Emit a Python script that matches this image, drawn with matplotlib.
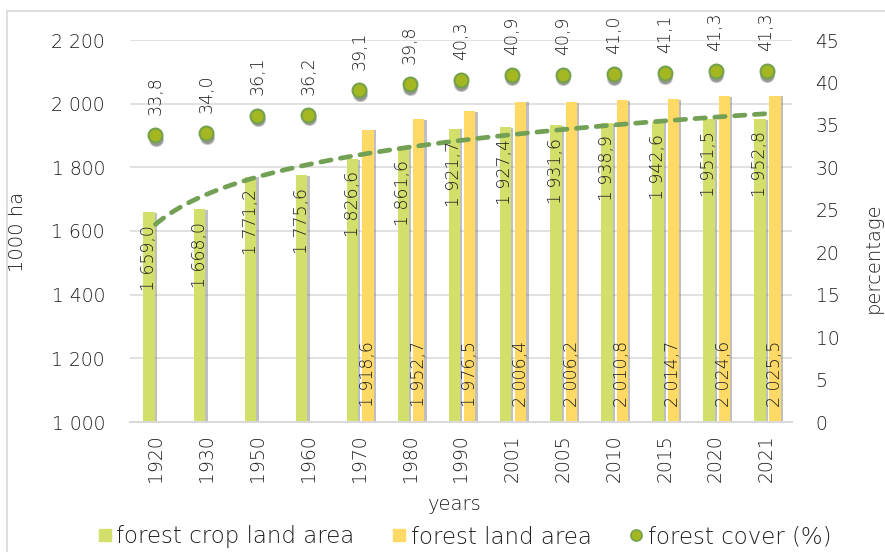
import numpy as np
import matplotlib
matplotlib.use("Agg")
import matplotlib.pyplot as plt
from matplotlib.lines import Line2D
from matplotlib import patheffects as pe
from matplotlib.transforms import ScaledTranslation

# --- data -------------------------------------------------------------
years = ["1920", "1930", "1950", "1960", "1970", "1980", "1990",
         "2001", "2005", "2010", "2015", "2020", "2021"]
forest_crop_land = [1659.0, 1668.0, 1771.2, 1775.6, 1826.6, 1861.6, 1921.7,
                    1927.4, 1931.6, 1938.9, 1942.6, 1951.5, 1952.8]
forest_land = [None, None, None, None, 1918.6, 1952.7, 1976.5,
               2006.4, 2006.2, 2010.8, 2014.7, 2024.6, 2025.5]
forest_cover = [33.8, 34.0, 36.1, 36.2, 39.1, 39.8, 40.3,
                40.9, 40.9, 41.0, 41.1, 41.3, 41.3]

# --- style --------------------------------------------------------------
GREEN_BAR = "#d3df6b"
YELLOW_BAR = "#ffd966"
DOT_FACE = "#a5b720"
DOT_EDGE = "#74a14c"
TREND = "#72a155"
GRID = "#d9d9d9"
TEXT = "#1e1e1e"

plt.rcParams["font.family"] = ["DejaVu Sans"]
plt.rcParams["font.weight"] = "light"
plt.rcParams["axes.labelweight"] = "light"
plt.rcParams["text.color"] = TEXT


def fmt(v):
    s = f"{v:,.1f}"
    return s.replace(",", " ").replace(".", ",")


fig = plt.figure(figsize=(8.85, 5.52), dpi=100)
ax = fig.add_axes([130 / 885, 1 - 422 / 552, 662 / 885, 382 / 552])
ax2 = ax.twinx()

x = np.arange(len(years))
crop = np.array(forest_crop_land, dtype=float)
land = np.array([np.nan if v is None else v for v in forest_land], dtype=float)
cover = np.array(forest_cover, dtype=float)

w = 0.225
off_g, off_y = -0.13, 0.17
bar_shadow = [pe.SimplePatchShadow(offset=(1.6, -0.6), shadow_rgbFace="#808080", alpha=0.5),
              pe.Normal()]

gb = ax.bar(x + off_g, crop, width=w, color=GREEN_BAR, zorder=3)
mask = ~np.isnan(land)
yb = ax.bar(x[mask] + off_y, land[mask], width=w, color=YELLOW_BAR, zorder=3)
for p in list(gb) + list(yb):
    p.set_path_effects(bar_shadow)

ax.set_xlim(-0.5, len(years) - 0.5)
ax.set_ylim(1000, 2200)
ax.set_yticks(np.arange(1000, 2201, 200))
ax.set_yticklabels([f"{int(v):,}".replace(",", " ") for v in np.arange(1000, 2201, 200)])
ax.set_xticks(x)
ax.set_xticklabels(years, rotation=90)
ax.grid(axis="y", color=GRID, lw=1.1, zorder=0)
ax.set_axisbelow(True)

for a in (ax, ax2):
    for s in ("top", "left", "right"):
        a.spines[s].set_visible(False)
    a.spines["bottom"].set_color(GRID)
    a.spines["bottom"].set_linewidth(1.4)
    a.tick_params(length=0, labelsize=13.5, colors=TEXT)
ax.tick_params(axis="y", pad=18)
ax.tick_params(axis="x", pad=9)
ax2.tick_params(axis="y", pad=17)

# bar value labels
for xi, v in zip(x, crop):
    ax.annotate(fmt(v), (xi + off_g, v), xytext=(0, -9), textcoords="offset points",
                rotation=90, ha="center", va="top", fontsize=12.5, color=TEXT, zorder=6)
for xi, v in zip(x[mask], land[mask]):
    ax.annotate(fmt(v), (xi + off_y, 1000), xytext=(0, 10.5), textcoords="offset points",
                rotation=90, ha="center", va="bottom", fontsize=12.5, color=TEXT, zorder=6)

# logarithmic trend of forest crop land area
idx = np.arange(1, len(years) + 1)
b, a0 = np.polyfit(np.log(idx), crop, 1)
tx = np.linspace(1, len(years), 300)
ax.plot(tx - 1, a0 + b * np.log(tx), color=TREND, lw=3.4, dashes=(2.2, 2.0),
        dash_capstyle="round", zorder=5)

# forest cover dots on secondary axis
ax2.set_ylim(0, 45)
ax2.set_yticks(np.arange(0, 46, 5))
shadow_tr = ax2.transData + ScaledTranslation(0.3 / 72, -2.6 / 72, fig.dpi_scale_trans)
ax2.scatter(x, cover, s=120, color="#3a3a3a", alpha=0.25, lw=0, transform=shadow_tr, zorder=3)
ax2.scatter(x, cover, s=90, color="#444444", alpha=0.4, lw=0, transform=shadow_tr, zorder=3)
ax2.scatter(x, cover, s=100, facecolor=DOT_FACE, edgecolor=DOT_EDGE, lw=1.5, zorder=4)
for xi, v in zip(x, cover):
    ax2.annotate(f"{v:.1f}".replace(".", ","), (xi, v), xytext=(0, 14.5),
                 textcoords="offset points", rotation=90, ha="center", va="bottom",
                 fontsize=12.5, color=TEXT)

# axis titles
ax.set_ylabel("1000 ha", fontsize=14, color=TEXT, fontweight="light")
ax.yaxis.set_label_coords(-0.1556, 0.497)
ax2.set_ylabel("percentage", fontsize=14, color=TEXT, rotation=90, va="center",
               fontweight="light")
ax2.yaxis.set_label_coords(1.1224, 0.429)
ax.set_xlabel("years", fontsize=14, color=TEXT, va="center", fontweight="light")
ax.xaxis.set_label_coords(0.491, -0.217)

# legend
handles = [
    Line2D([], [], ls="none", marker="s", ms=9, mfc=GREEN_BAR, mec=GREEN_BAR),
    Line2D([], [], ls="none", marker="s", ms=9, mfc=YELLOW_BAR, mec=YELLOW_BAR),
    Line2D([], [], ls="none", marker="o", ms=8, mfc=DOT_FACE, mec=DOT_EDGE, mew=1.2),
]
labels = ["forest crop land area", "forest land area", "forest cover (%)"]
fig.legend(handles, labels, loc="center", bbox_to_anchor=(465 / 885, 1 - 537 / 552),
           ncol=3, frameon=False, fontsize=16.5, handlelength=0.5, handletextpad=0.25,
           columnspacing=1.7, labelcolor=TEXT)

# chart frame
fig.add_artist(Line2D([7 / 885, 7 / 885], [0, 1 - 11 / 552], color=GRID, lw=1.2,
                      transform=fig.transFigure))
fig.add_artist(Line2D([7 / 885, 1], [1 - 11 / 552, 1 - 11 / 552], color=GRID, lw=1.2,
                      transform=fig.transFigure))

fig.savefig("out.png", dpi=100, facecolor="white")
